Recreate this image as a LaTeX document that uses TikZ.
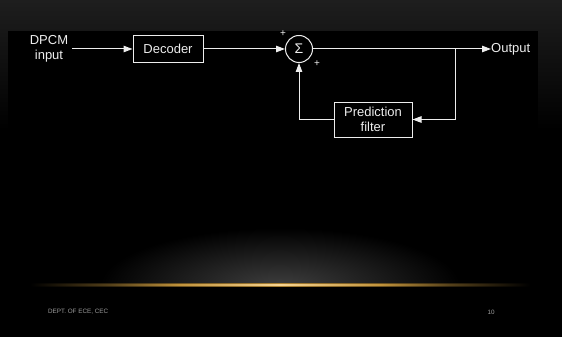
\documentclass[tikz,border=0pt]{standalone}
\usepackage{fontspec}
\setmainfont{Liberation Sans}
\usetikzlibrary{arrows.meta,positioning}
\definecolor{ink}{HTML}{EDEDED}
\definecolor{topband}{HTML}{1E1E1E}
\definecolor{amber}{HTML}{F2B84A}
\definecolor{glow}{HTML}{3E3E3E}
% horizontal profiles of the amber rule (path spans 25bp..75bp)
\pgfdeclarehorizontalshading{rulehalo}{100bp}{color(0bp)=(black); color(25bp)=(black);
  color(33bp)=(amber!20!black); color(40bp)=(amber!45!black); color(50bp)=(amber!70!black);
  color(60bp)=(amber!45!black); color(67bp)=(amber!20!black);
  color(75bp)=(black); color(100bp)=(black)}
\pgfdeclarehorizontalshading{rulecore}{100bp}{color(0bp)=(black); color(25bp)=(black);
  color(33bp)=(amber!35!black); color(40bp)=(amber!80!black); color(50bp)=(amber!60!white);
  color(60bp)=(amber!80!black); color(67bp)=(amber!35!black);
  color(75bp)=(black); color(100bp)=(black)}
\begin{document}
\begin{tikzpicture}[x=1pt,y=-1pt,
  wire/.style={draw=ink,line width=1pt},
  arr/.style={wire,-{Triangle[length=9pt,width=6.5pt]}},
  block/.style={draw=ink,line width=1pt,fill=black,text=ink,font=\fontsize{13}{14.5}\selectfont,align=center,inner sep=0pt},
  lbl/.style={text=ink,font=\fontsize{13}{14.5}\selectfont,align=center,inner sep=0pt},
  sign/.style={text=ink,font=\fontsize{10}{10}\selectfont,inner sep=0pt},
  foot/.style={text=gray!75,font=\fontsize{6.3}{7}\selectfont,inner sep=0pt}]
% slide background
\fill[black] (0,0) rectangle (562,337);
\shade[top color=topband,bottom color=black] (0,0) rectangle (562,130);
% scanned diagram area
\fill[black] (8,31) rectangle (538,165);
\useasboundingbox (0,0) rectangle (562,337);

% glow above the rule
\begin{scope}
  \clip (0,170) rectangle (562,284.5);
  \shade[inner color=glow,outer color=black] (280,286) ellipse [x radius=180,y radius=58];
\end{scope}
% amber rule, brightest in the middle
\shade[shading=rulehalo] (30,283.6) rectangle (530,286.6);
\shade[shading=rulecore] (30,284.5) rectangle (530,285.7);

% blocks
\node[lbl] (in) at (49,49) {DPCM\\input};
\node[block,minimum width=70pt,minimum height=27pt] (dec) at (168,49) {Decoder};
\node[draw=ink,line width=1pt,circle,minimum size=27pt,inner sep=0pt,text=ink,font=\fontsize{14}{14}\selectfont] (sum) at (299,49) {Σ};
\node[block,minimum width=78pt,minimum height=35pt] (pf) at (373,119.5) {Prediction\\filter};
\node[lbl,anchor=west] (out) at (491,49) {Output};
\node[sign] (p1) at (283,34) {+};
\node[sign] (p2) at (317,64) {+};
\coordinate (br) at (455,49);
\coordinate (src) at (72,49);

% connectors
\draw[arr] (src) -- (dec.west);
\draw[arr] (dec.east) -- (sum.west);
\draw[arr] (sum.east) -- (out.west);
\draw[arr] (br) |- (pf.east);
\draw[arr] (pf.west) -| (sum.south);

% footer
\node[foot,anchor=west] (dept) at (48,312) {DEPT. OF ECE, CEC};
\node[foot] (pg) at (491,312) {10};
\end{tikzpicture}
\end{document}
